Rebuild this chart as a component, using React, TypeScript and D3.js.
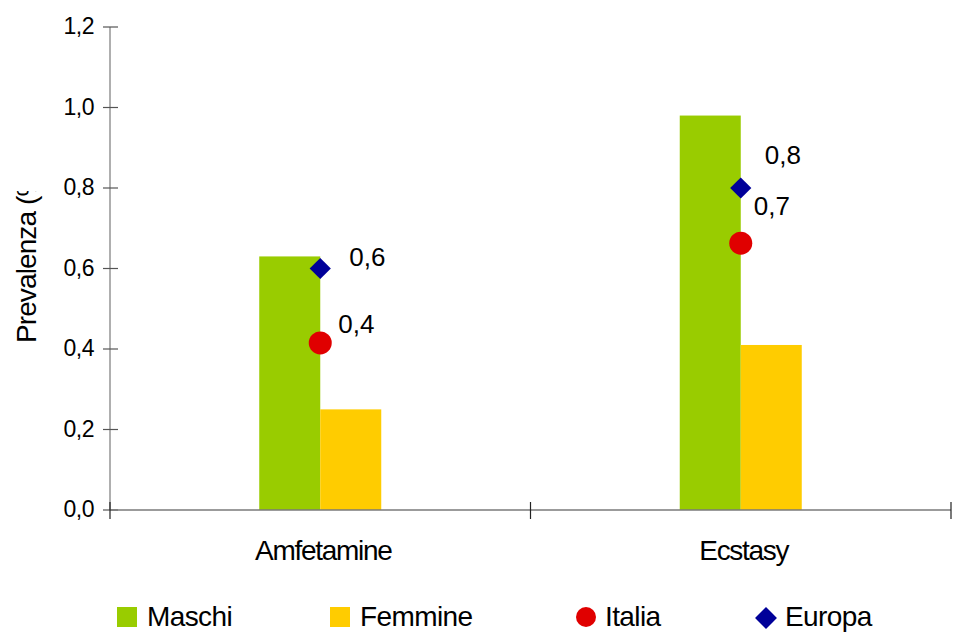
import React from "react";
import * as d3 from "d3";

// ---- data ----
const categories = ["Amfetamine", "Ecstasy"];
const seriesBars = ["Maschi", "Femmine"];
const maschi = [0.63, 0.98];
const femmine = [0.25, 0.41];
const italia = [0.415, 0.663];
const europa = [0.6, 0.8];
const yTicks = [0, 0.2, 0.4, 0.6, 0.8, 1.0, 1.2];
const yTickLabels = ["0,0", "0,2", "0,4", "0,6", "0,8", "1,0", "1,2"];
const legendLabels = ["Maschi", "Femmine", "Italia", "Europa"];
const yTitle = "Prevalenza (%)";

// ---- layout / style ----
const W = 954;
const H = 632;
const FONT = "'Liberation Sans', Arial, sans-serif";
const COLORS = { Maschi: "#99CC00", Femmine: "#FFCC00", Italia: "#E00000", Europa: "#000099" };
const italiaLabelOffsets = [[18, -10], [13, -28]];
const europaLabelOffsets = [[29, -3], [24, -24]];
const fmt = (v: number) => d3.format(".1f")(v).replace(".", ",");

export default function App() {
  const plotLeft = 110;
  const plotRight = 951;
  const y = d3.scaleLinear().domain([0, 1.2]).range([510, 27]);
  const x0 = d3.scaleBand<string>().domain(categories).range([plotLeft, plotRight]).padding(0);
  const x1 = d3.scaleBand<string>().domain(seriesBars).range([-61, 61]).padding(0);
  const center = (c: string) => (x0(c) as number) + x0.bandwidth() / 2;
  const circle = d3.symbol().type(d3.symbolCircle).size(Math.PI * 11.5 * 11.5)();
  const diamond = d3.symbol().type(d3.symbolSquare).size(15 * 15)();
  const legCircle = d3.symbol().type(d3.symbolCircle).size(Math.PI * 10 * 10)();
  const legDiamond = d3.symbol().type(d3.symbolSquare).size(15.5 * 15.5)();
  const catTicks = [plotLeft, ...categories.map((c) => (x0(c) as number) + x0.bandwidth())];
  const barVals: Record<string, number[]> = { Maschi: maschi, Femmine: femmine };

  const legendX = [117, 330, 586, 766];
  const legendTextX = [147, 360, 605, 785];

  return (
    <svg
      width={W}
      height={H}
      style={{ position: "absolute", left: 0, top: 0, background: "#fff" }}
      fontFamily={FONT}
    >
      <defs>
        <clipPath id="ytitleclip">
          <rect x={0} y={191} width={60} height={300} />
        </clipPath>
      </defs>
      <rect x={0} y={0} width={W} height={H} fill="#fff" />

      {/* bars */}
      {categories.map((c, i) =>
        seriesBars.map((s) => {
          const v = barVals[s][i];
          return (
            <rect
              key={c + s}
              x={center(c) + (x1(s) as number)}
              y={y(v)}
              width={x1.bandwidth()}
              height={y(0) - y(v)}
              fill={COLORS[s as keyof typeof COLORS]}
            />
          );
        })
      )}

      {/* y axis */}
      <line x1={plotLeft} x2={plotLeft} y1={y(1.2)} y2={y(0)} stroke="#7a7a7a" strokeWidth={1.2} />
      {yTicks.map((t, i) => (
        <g key={t}>
          <line x1={plotLeft - 7} x2={plotLeft + 8} y1={y(t)} y2={y(t)} stroke="#555" strokeWidth={1.2} />
          <text
            x={94}
            y={y(t) + 7}
            textAnchor="end"
            fontSize={23}
            letterSpacing={-0.5}
            fill="#000"
          >
            {yTickLabels[i]}
          </text>
        </g>
      ))}

      {/* x axis */}
      <line x1={plotLeft} x2={plotRight} y1={y(0)} y2={y(0)} stroke="#7a7a7a" strokeWidth={1.5} />
      {catTicks.map((t) => (
        <line key={t} x1={t} x2={t} y1={y(0) - 8} y2={y(0) + 9} stroke="#222" strokeWidth={1.2} />
      ))}
      {categories.map((c) => (
        <text key={c} x={center(c) + 3} y={560} textAnchor="middle" fontSize={28} letterSpacing={-1.3} fill="#000">
          {c}
        </text>
      ))}

      {/* y title */}
      <g clipPath="url(#ytitleclip)">
        <text transform="translate(36,343) rotate(-90)" fontSize={28} letterSpacing={-0.9} fill="#000">
          {yTitle}
        </text>
      </g>

      {/* markers */}
      {categories.map((c, i) => (
        <g key={"m" + c}>
          <path d={circle as string} transform={`translate(${center(c)},${y(italia[i])})`} fill={COLORS.Italia} />
          <path
            d={diamond as string}
            transform={`translate(${center(c)},${y(europa[i])}) rotate(45)`}
            fill={COLORS.Europa}
          />
          <text
            x={center(c) + italiaLabelOffsets[i][0]}
            y={y(italia[i]) + italiaLabelOffsets[i][1]}
            fontSize={26}
            fill="#000"
          >
            {fmt(italia[i])}
          </text>
          <text
            x={center(c) + europaLabelOffsets[i][0]}
            y={y(europa[i]) + europaLabelOffsets[i][1]}
            fontSize={26}
            fill="#000"
          >
            {fmt(europa[i])}
          </text>
        </g>
      ))}

      {/* legend */}
      <rect x={legendX[0]} y={607} width={20} height={20} fill={COLORS.Maschi} />
      <rect x={legendX[1]} y={607} width={20} height={20} fill={COLORS.Femmine} />
      <path d={legCircle as string} transform={`translate(${legendX[2]},617)`} fill={COLORS.Italia} />
      <path d={legDiamond as string} transform={`translate(${legendX[3]},618) rotate(45)`} fill={COLORS.Europa} />
      {legendLabels.map((l, i) => (
        <text key={l} x={legendTextX[i]} y={626} fontSize={28} letterSpacing={-0.6} fill="#000">
          {l}
        </text>
      ))}
    </svg>
  );
}
